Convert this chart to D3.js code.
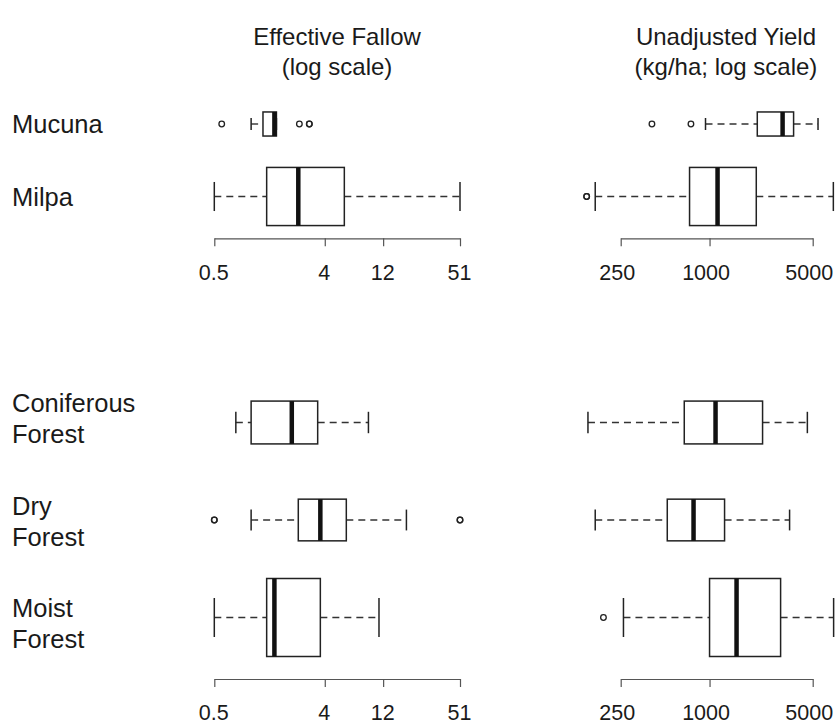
<!DOCTYPE html>
<html>
<head>
<meta charset="utf-8">
<script src="https://cdn.jsdelivr.net/npm/d3@7"></script>
<style>
body { margin: 0; background: #fff; }
text { font-family: "Liberation Sans", Arial, Helvetica, sans-serif; fill: #1a1a1a; }
</style>
</head>
<body>
<svg width="837" height="724"></svg>
<script>
// groupes et tailles d'échantillon (largeur des boîtes ~ sqrt(n))
const groups = ["Mucuna", "Milpa", "Coniferous Forest", "Dry Forest", "Moist Forest"];
const groupLines = [["Mucuna"], ["Milpa"], ["Coniferous", "Forest"], ["Dry", "Forest"], ["Moist", "Forest"]];
const sampleSize = [6, 35, 19, 18, 63];

// [moustache basse, Q1, médiane, Q3, moustache haute]
const fallowStats = [
	[1.0, 1.25, 1.55, 1.61, 1.61],
	[0.5, 1.34, 2.43, 5.78, 51],
	[0.75, 1.0, 2.15, 3.5, 9.1],
	[1.0, 2.43, 3.68, 6.0, 18.6],
	[0.5, 1.34, 1.55, 3.68, 11.1]
];
const fallowOutliers = [[0.575, 2.48, 2.99, 2.99], [], [], [0.5, 0.5, 51, 51], []];

const yieldStats = [
	[939, 2106, 3126, 3711, 5433],
	[168, 732, 1133, 2073, 6900],
	[150, 674, 1098, 2287, 4600],
	[168, 517, 779, 1264, 3486],
	[261, 1000, 1524, 3030, 6930]
];
const yieldOutliers = [[407, 748], [147, 147], [], [], [191]];

const fallowTicks = [0.5, 4, 12, 51];
const yieldTicks = [250, 1000, 5000];

const svg = d3.select('svg');

// échelles
const xFallow = d3.scaleLog().domain([0.5, 51]).range([214.3, 460]);
const xYield = d3.scaleLog().domain([250, 5000]).range([620.7, 812.7]);
const yTop = d3.scalePoint().domain(groups.slice(0, 2)).range([124, 196.5]);
const yBottom = d3.scalePoint().domain(groups.slice(2)).range([422.5, 617.5]);
const yOf = g => groups.indexOf(g) < 2 ? yTop(g) : yBottom(g);
const boxH = d3.scaleSqrt().domain([0, d3.max(sampleSize)]).range([0, 78]);
const labelBottom = d3.scalePoint().domain(groups.slice(2)).range([412, 617]);

// titres
const titles = [
	{x: 337, lines: ["Effective Fallow", "(log scale)"]},
	{x: 726, lines: ["Unadjusted Yield", "(kg/ha; log scale)"]}
];
titles.forEach(t => {
	t.lines.forEach((l, i) => {
		svg.append('text')
			.attr('x', t.x)
			.attr('y', 45 + i * 30)
			.attr('text-anchor', 'middle')
			.style('font-size', '24px')
			.text(l);
	});
});

// étiquettes des groupes
groups.forEach((g, i) => {
	const base = i < 2 ? yTop(g) + 9 : labelBottom(g);
	groupLines[i].forEach((l, j) => {
		svg.append('text')
			.attr('x', 12)
			.attr('y', base + j * 31)
			.style('font-size', '25.5px')
			.text(l);
	});
});

function drawBoxes(x, stats, outliers) {
	const g = svg.append('g');
	groups.forEach((name, i) => {
		const [lo, q1, med, q3, hi] = stats[i];
		const cy = yOf(name);
		const h = boxH(sampleSize[i]);
		// moustaches
		g.append('line')
			.attr('x1', x(lo)).attr('x2', x(q1))
			.attr('y1', cy).attr('y2', cy)
			.attr('stroke', '#333').attr('stroke-width', 1.4)
			.attr('stroke-dasharray', '7,5');
		g.append('line')
			.attr('x1', x(q3)).attr('x2', x(hi))
			.attr('y1', cy).attr('y2', cy)
			.attr('stroke', '#333').attr('stroke-width', 1.4)
			.attr('stroke-dasharray', '7,5');
		[lo, hi].forEach(v => {
			g.append('line')
				.attr('x1', x(v)).attr('x2', x(v))
				.attr('y1', cy - h / 4).attr('y2', cy + h / 4)
				.attr('stroke', '#222').attr('stroke-width', 1.5);
		});
		// boîte
		g.append('rect')
			.attr('x', x(q1))
			.attr('y', cy - h / 2)
			.attr('width', x(q3) - x(q1))
			.attr('height', h)
			.attr('fill', '#fff')
			.attr('stroke', '#222')
			.attr('stroke-width', 1.5);
		// médiane
		g.append('line')
			.attr('x1', x(med)).attr('x2', x(med))
			.attr('y1', cy - h / 2).attr('y2', cy + h / 2)
			.attr('stroke', '#111').attr('stroke-width', 4.5);
		// valeurs extrêmes
		g.selectAll(null).data(outliers[i]).enter()
			.append('circle')
			.attr('cx', d => x(d))
			.attr('cy', cy)
			.attr('r', 2.8)
			.attr('fill', 'none')
			.attr('stroke', '#222')
			.attr('stroke-width', 1.3);
	});
}

drawBoxes(xFallow, fallowStats, fallowOutliers);
drawBoxes(xYield, yieldStats, yieldOutliers);

// axes
function drawAxis(x, ticks, y, shift) {
	const a = svg.append('g')
		.attr('transform', `translate(0,${y})`)
		.call(d3.axisBottom(x)
			.tickValues(ticks)
			.tickFormat(d3.format(''))
			.tickSizeInner(8)
			.tickSizeOuter(0)
			.tickPadding(18));
	a.selectAll('path, line').attr('stroke', '#555').attr('stroke-width', 1.2);
	a.selectAll('text')
		.attr('fill', '#1a1a1a')
		.attr('dx', shift)
		.style('font-size', '21.5px')
		.style('font-family', '"Liberation Sans", Arial, Helvetica, sans-serif');
}

drawAxis(xFallow, fallowTicks, 238.3, -1);
drawAxis(xYield, yieldTicks, 238.3, -4);
drawAxis(xFallow, fallowTicks, 679, -1);
drawAxis(xYield, yieldTicks, 679, -4);
</script>
</body>
</html>
